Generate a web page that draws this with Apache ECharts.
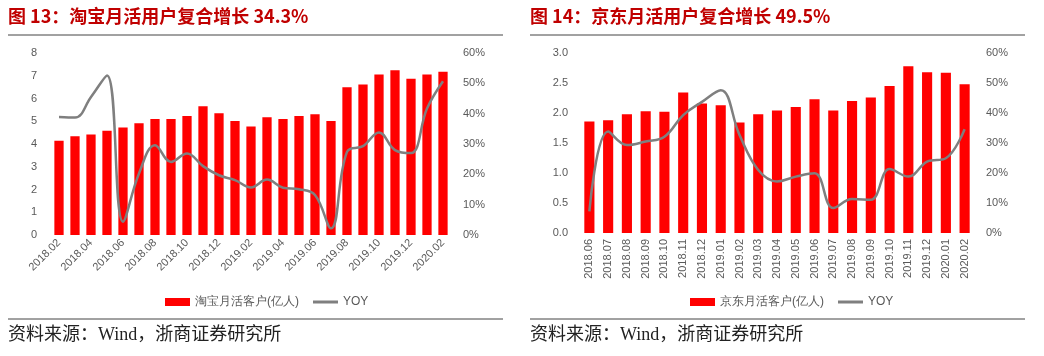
<!DOCTYPE html>
<html><head><meta charset="utf-8">
<script src="https://cdn.jsdelivr.net/npm/echarts@6/dist/echarts.min.js"></script>
<style>html,body{margin:0;padding:0;background:#fff}#c{width:1044px;height:356px}</style>
</head><body><div id="c"></div>
<script>
const tbCats = ['2018.02','2018.03','2018.04','2018.05','2018.06','2018.07','2018.08','2018.09','2018.10','2018.11','2018.12','2019.01','2019.02','2019.03','2019.04','2019.05','2019.06','2019.07','2019.08','2019.09','2019.10','2019.11','2019.12','2020.01','2020.02'];
const tbMau = [4.14,4.34,4.42,4.58,4.72,4.91,5.10,5.10,5.23,5.66,5.35,5.01,4.77,5.18,5.10,5.23,5.31,5.01,6.49,6.61,7.05,7.24,6.87,7.05,7.18];
const tbYoy = [0.389,0.387,0.455,0.526,0.044,0.203,0.296,0.241,0.269,0.227,0.197,0.181,0.157,0.183,0.156,0.151,0.132,0.022,0.274,0.293,0.338,0.28,0.27,0.417,0.507];
const jdCats = ['2018.06','2018.07','2018.08','2018.09','2018.10','2018.11','2018.12','2019.01','2019.02','2019.03','2019.04','2019.05','2019.06','2019.07','2019.08','2019.09','2019.10','2019.11','2019.12','2020.01','2020.02'];
const jdMau = [1.86,1.88,1.98,2.03,2.02,2.34,2.16,2.13,1.84,1.98,2.04,2.10,2.23,2.04,2.20,2.26,2.45,2.78,2.68,2.67,2.48];
const jdYoy = [0.072,0.338,0.293,0.305,0.321,0.393,0.437,0.476,0.327,0.210,0.172,0.188,0.199,0.083,0.113,0.111,0.213,0.188,0.238,0.249,0.346];
const titles = ['图 13：淘宝月活用户复合增长 34.3%','图 14：京东月活用户复合增长 49.5%'];
const barNames = ['淘宝月活客户(亿人)','京东月活客户(亿人)'];
const source = '资料来源：Wind，浙商证券研究所';

const gray = '#595959';
const lab = {color: gray, fontSize: 11, fontFamily: 'Arial, "Liberation Sans", sans-serif'};
const lineIcon = 'path://M0,0h100v12H0z';
const chart = echarts.init(document.getElementById('c'), null, {renderer:'canvas'});
function titleText(x, t){
  return {type:'text', left:x, top:7, style:{text:t, fill:'#C00000', font:'bold 18px "Noto Sans CJK SC", sans-serif'}};
}
function hline(x1,x2,y){
  return {type:'line', shape:{x1:x1,y1:y,x2:x2,y2:y}, style:{stroke:'#444', lineWidth:1}};
}
function src(x){
  return {type:'text', left:x, top:326, style:{text:source, fill:'#222', font:'18px "Liberation Serif", "Noto Sans CJK SC", serif'}};
}
chart.setOption({
  animation:false,
  graphic:[titleText(8,titles[0]), titleText(530,titles[1]), hline(8,503,35), hline(530,1025,35), hline(8,503,319), hline(530,1025,319), src(8), src(530)],
  legend:[
    {left:160, top:291, itemGap:14, itemWidth:25, itemHeight:8, textStyle:{color:gray,fontSize:12}, data:[{name:barNames[0],icon:'rect'},{name:'YOY',icon:lineIcon}]},
    {left:685, top:291, itemGap:14, itemWidth:25, itemHeight:8, textStyle:{color:gray,fontSize:12}, data:[{name:barNames[1],icon:'rect'},{name:'YOY ',icon:lineIcon}]}
  ],
  grid:[
    {left:51, right:593, top:53, bottom:121},
    {left:580, right:70, top:53, bottom:123}
  ],
  xAxis:[
    {type:'category', gridIndex:0, data:tbCats, axisLine:{show:false}, axisTick:{show:false},
     axisLabel:Object.assign({rotate:45, interval:1, margin:6}, lab)},
    {type:'category', gridIndex:1, data:jdCats, axisLine:{show:false}, axisTick:{show:false},
     axisLabel:Object.assign({rotate:90, interval:0, margin:6}, lab)}
  ],
  yAxis:[
    {type:'value', gridIndex:0, min:0, max:8, interval:1, splitLine:{show:false}, axisLabel:Object.assign({margin:14}, lab)},
    {type:'value', gridIndex:0, min:0, max:0.6, interval:0.1, position:'right', splitLine:{show:false},
     axisLabel:Object.assign({margin:12, formatter:v=>Math.round(v*100)+'%'}, lab)},
    {type:'value', gridIndex:1, min:0, max:3, interval:0.5, splitLine:{show:false},
     axisLabel:Object.assign({margin:12, formatter:v=>v.toFixed(1)}, lab)},
    {type:'value', gridIndex:1, min:0, max:0.6, interval:0.1, position:'right', splitLine:{show:false},
     axisLabel:Object.assign({margin:12, formatter:v=>Math.round(v*100)+'%'}, lab)}
  ],
  series:[
    {name:barNames[0], type:'bar', xAxisIndex:0, yAxisIndex:0, data:tbMau, barWidth:'58%', itemStyle:{color:'#FF0000'}},
    {name:'YOY', type:'line', xAxisIndex:0, yAxisIndex:1, data:tbYoy, smooth:0.4, symbol:'none', lineStyle:{color:'#7F7F7F', width:2.5}, itemStyle:{color:'#7F7F7F'}},
    {name:barNames[1], type:'bar', xAxisIndex:1, yAxisIndex:2, data:jdMau, barWidth:'54%', itemStyle:{color:'#FF0000'}},
    {name:'YOY ', type:'line', xAxisIndex:1, yAxisIndex:3, data:jdYoy, smooth:0.4, symbol:'none', lineStyle:{color:'#7F7F7F', width:2.5}, itemStyle:{color:'#7F7F7F'}}
  ]
});
</script></body></html>
